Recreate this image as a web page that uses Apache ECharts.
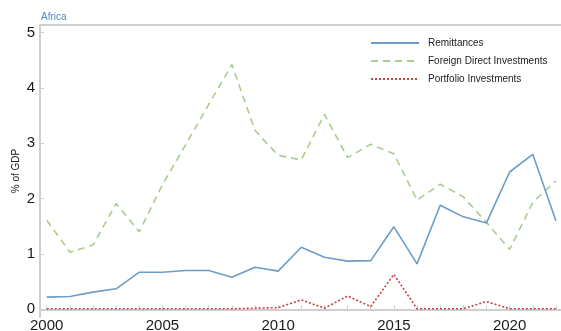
<!DOCTYPE html>
<html>
<head>
<meta charset="utf-8">
<script src="https://cdn.jsdelivr.net/npm/echarts@6/dist/echarts.min.js"></script>
<style>
  html, body { margin: 0; padding: 0; background: #fff; }
  #chart { width: 561px; height: 331px; }
</style>
</head>
<body>
<div id="chart"></div>
<script>
// Capital flows to Africa, share of GDP
const years = [2000, 2001, 2002, 2003, 2004, 2005, 2006, 2007, 2008, 2009, 2010,
               2011, 2012, 2013, 2014, 2015, 2016, 2017, 2018, 2019, 2020, 2021, 2022];
const remittances = [0.22, 0.23, 0.31, 0.37, 0.67, 0.67, 0.70, 0.70, 0.58, 0.76, 0.69,
                     1.12, 0.94, 0.87, 0.88, 1.49, 0.82, 1.88, 1.67, 1.56, 2.48, 2.80, 1.60];
const fdi = [1.61, 1.03, 1.16, 1.91, 1.40, 2.25, 2.97, 3.70, 4.42, 3.23, 2.78,
             2.70, 3.52, 2.74, 2.98, 2.81, 1.97, 2.26, 2.03, 1.57, 1.08, 1.93, 2.32];
const portfolio = [0.01, 0.01, 0.01, 0.01, 0.01, 0.01, 0.01, 0.01, 0.01, 0.02, 0.03,
                   0.17, 0.02, 0.24, 0.05, 0.63, 0.01, 0.01, 0.01, 0.14, 0.01, 0.01, 0.01];
const xLabelYears = [2000, 2005, 2010, 2015, 2020];
const yTicks = [0, 1, 2, 3, 4, 5];

const pairs = arr => years.map((y, i) => [y, arr[i]]);
const font = '"Liberation Sans", Arial, Helvetica, sans-serif';
const axisGray = '#cfcfcf';

const chart = echarts.init(document.getElementById('chart'), null, { renderer: 'canvas' });
chart.setOption({
  animation: false,
  backgroundColor: '#fff',
  textStyle: { fontFamily: font },
  title: {
    text: 'Africa',
    left: 36, top: 7,
    textStyle: { fontSize: 10, fontWeight: 'normal', color: '#4f8ac2', fontFamily: font }
  },
  legend: {
    orient: 'vertical',
    left: 365, top: 33,
    itemWidth: 48, itemHeight: 10, itemGap: 8,
    itemStyle: { opacity: 0 },
    textStyle: { fontSize: 10, color: '#222', fontFamily: font, padding: [0, 0, 0, 4] },
    data: ['Remittances', 'Foreign Direct Investments', 'Portfolio Investments']
  },
  grid: { left: 40, right: 0, top: 25, bottom: 14, containLabel: false, outerBoundsMode: 'none' },
  xAxis: [{
    type: 'value',
    min: 1999.71, max: 2022.22,
    axisLine: { show: true, lineStyle: { color: axisGray, width: 2 } },
    axisTick: { show: true, inside: true, length: 4, customValues: years,
                lineStyle: { color: axisGray, width: 1 } },
    axisLabel: { customValues: xLabelYears, fontSize: 15, color: '#1a1a1a', margin: 1,
                 fontFamily: font, formatter: v => String(v) },
    splitLine: { show: false }
  }, {
    type: 'value',
    position: 'top',
    min: 1999.71, max: 2022.22,
    axisLine: { show: true, lineStyle: { color: axisGray, width: 2 } },
    axisTick: { show: false },
    axisLabel: { show: false },
    splitLine: { show: false }
  }],
  yAxis: {
    type: 'value',
    min: -0.139, max: 5.135,
    name: '% of GDP',
    nameLocation: 'middle',
    nameGap: 19,
    nameMoveOverlap: false,
    nameTextStyle: { fontSize: 10, color: '#222', fontFamily: font },
    axisLine: { show: true, lineStyle: { color: axisGray, width: 2 } },
    axisTick: { show: true, inside: true, length: 4, customValues: yTicks,
                lineStyle: { color: axisGray, width: 1 } },
    axisLabel: { customValues: yTicks, fontSize: 15, color: '#1a1a1a', margin: 5,
                 fontFamily: font },
    splitLine: { show: false }
  },
  series: [{
    name: 'Remittances',
    type: 'line',
    data: pairs(remittances),
    showSymbol: false, symbol: 'none',
    lineStyle: { color: '#6b9dc8', width: 1.6 },
    itemStyle: { color: '#6b9dc8' },
    z: 3
  }, {
    name: 'Foreign Direct Investments',
    type: 'line',
    data: pairs(fdi),
    showSymbol: false, symbol: 'none',
    lineStyle: { color: '#a9cc8f', width: 1.6, type: [7, 5] },
    itemStyle: { color: '#a9cc8f' },
    z: 2
  }, {
    name: 'Portfolio Investments',
    type: 'line',
    data: pairs(portfolio),
    showSymbol: false, symbol: 'none',
    lineStyle: { color: '#c8403f', width: 1.6, type: [2, 2] },
    itemStyle: { color: '#c8403f' },
    z: 4
  }]
});
</script>
</body>
</html>
